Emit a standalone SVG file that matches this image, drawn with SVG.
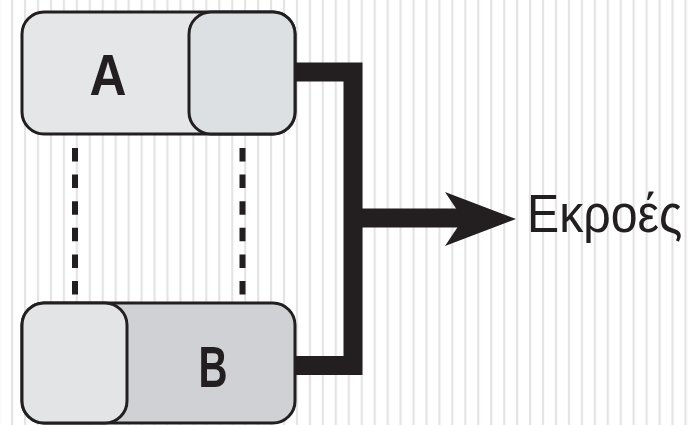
<svg xmlns="http://www.w3.org/2000/svg" width="693" height="425" viewBox="0 0 693 425">
  <defs>
    <pattern id="stripes" x="11" y="0" width="12.95" height="425" patternUnits="userSpaceOnUse">
      <rect x="0" y="0" width="2.2" height="425" fill="#e4e4e4"/>
    </pattern>
    <style>
      .box { stroke: #231f20; stroke-width: 3; }
      .label { font-family: "Liberation Sans", Arial, sans-serif; font-weight: bold; font-size: 58px; fill: #231f20; text-anchor: middle; }
      .out { font-family: "Liberation Sans", Arial, sans-serif; font-size: 53px; fill: #231f20; }
      .wire { fill: none; stroke: #231f20; stroke-width: 19; stroke-linejoin: miter; }
      .dash { stroke: #231f20; stroke-width: 6; stroke-dasharray: 13.5 13.1; }
    </style>
  </defs>

  <!-- background -->
  <rect width="693" height="425" fill="#ffffff"/>
  <rect width="693" height="425" fill="url(#stripes)"/>

  <!-- connectors -->
  <g id="connectors">
    <line class="dash" x1="75" y1="148" x2="75" y2="296"/>
    <line class="dash" x1="242.5" y1="148" x2="242.5" y2="296"/>
    <path class="wire" d="M295,72 H353 V365.5 H295"/>
    <path class="wire" d="M353,218 H470"/>
    <polygon points="445,192 516,219 445,246 463,219" fill="#231f20"/>
  </g>

  <!-- node A -->
  <g id="nodeA">
    <rect class="box" x="22" y="12" width="273" height="122" rx="22" fill="#e5e6e8"/>
    <rect class="box" x="189" y="12" width="106" height="122" rx="22" fill="#dde0e3"/>
    <text class="label" x="108" y="95" textLength="37" lengthAdjust="spacingAndGlyphs">A</text>
  </g>

  <!-- node B -->
  <g id="nodeB">
    <rect class="box" x="22" y="303" width="273" height="120" rx="22" fill="#cfd1d4"/>
    <rect class="box" x="22" y="303" width="105" height="120" rx="22" fill="#e3e4e6"/>
    <text class="label" x="213" y="387" textLength="29" lengthAdjust="spacingAndGlyphs">B</text>
  </g>

  <!-- output label, horizontally condensed -->
  <g id="output">
    <text class="out" transform="translate(527,232) scale(0.91,1)" x="0" y="0">Εκροές</text>
  </g>
</svg>
